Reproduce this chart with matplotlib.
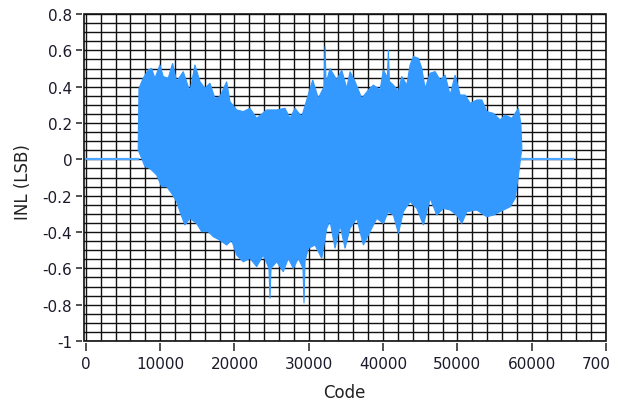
import numpy as np
import matplotlib
matplotlib.use("Agg")
import matplotlib.pyplot as plt
from matplotlib.ticker import MultipleLocator
from matplotlib.transforms import Bbox

# ---- data (Code vs INL in LSB) ----
upper_code = [7050, 7150, 7717, 8390, 8849, 9293, 9966, 10411, 11084, 11677, 12215, 13104,
              14007, 14680, 15354, 16027, 16700, 17374, 18047, 18949, 19394, 20296, 21185,
              22088, 22990, 24337, 25684, 26801, 27475, 28148, 29050, 29724, 30532, 31286,
              32050, 32189, 32330, 32862, 33764, 34437, 35111, 35556, 36229, 37131, 38020,
              38694, 39596, 40041, 40580, 40714, 40850, 41388, 42061, 42519, 43192, 43636,
              44081, 44754, 45212, 45657, 46330, 47003, 47677, 48350, 49024, 49697, 50370,
              51044, 51717, 52619, 53293, 53966, 54855, 55758, 56431, 57333, 58222, 58545]
upper_inl = [0.10, 0.391, 0.446, 0.492, 0.501, 0.446, 0.520, 0.456, 0.446, 0.529, 0.428, 0.483,
             0.373, 0.520, 0.428, 0.391, 0.419, 0.336, 0.345, 0.428, 0.318, 0.272, 0.263,
             0.281, 0.226, 0.272, 0.272, 0.281, 0.226, 0.281, 0.235, 0.327, 0.437, 0.336,
             0.40, 0.621, 0.42, 0.50, 0.437, 0.492, 0.391, 0.483, 0.428, 0.336, 0.382,
             0.409, 0.382, 0.492, 0.45, 0.602, 0.43, 0.409, 0.373, 0.456, 0.409, 0.520,
             0.566, 0.556, 0.501, 0.391, 0.474, 0.483, 0.437, 0.464, 0.354, 0.464, 0.354,
             0.354, 0.309, 0.327, 0.327, 0.263, 0.253, 0.217, 0.244, 0.226, 0.281, 0.193]

lower_code = [7050, 7502, 7946, 8620, 9522, 10195, 10869, 11542, 12215, 12660, 13333, 14007,
              14909, 15582, 16471, 17145, 18047, 18949, 19623, 20296, 21185, 22088, 22990,
              23879, 24640, 24781, 24920, 25684, 26573, 27246, 27920, 28593, 29220, 29360,
              29500, 29940, 30842, 31744, 32418, 32862, 33535, 34209, 34882, 35556, 36458,
              37347, 38249, 39151, 40041, 40714, 41388, 42061, 42734, 43636, 44539, 45428,
              46330, 47232, 48121, 49024, 49926, 50599, 51273, 52619, 53966, 54855, 56202,
              57104, 57778, 58222, 58679]
lower_inl = [0.05, 0.006, -0.040, -0.050, -0.086, -0.150, -0.150, -0.187, -0.233, -0.288, -0.362, -0.325,
             -0.353, -0.398, -0.398, -0.426, -0.445, -0.472, -0.445, -0.527, -0.564, -0.545, -0.591,
             -0.527, -0.60, -0.766, -0.60, -0.564, -0.619, -0.545, -0.601, -0.545, -0.60, -0.793,
             -0.56, -0.490, -0.472, -0.545, -0.380, -0.340, -0.490, -0.362, -0.490, -0.380, -0.325,
             -0.472, -0.398, -0.325, -0.353, -0.288, -0.307, -0.408, -0.288, -0.233, -0.270, -0.362,
             -0.215, -0.307, -0.270, -0.279, -0.307, -0.353, -0.288, -0.279, -0.316, -0.307, -0.279,
             -0.261, -0.215, -0.086, 0.061]

zero_left_code = [0, 7050]
zero_right_code = [58600, 65535]
zero_inl = [0.0, 0.0]

x_ticks = [0, 10000, 20000, 30000, 40000, 50000, 60000, 70000]
x_labels = ["0", "10000", "20000", "30000", "40000", "50000", "60000", "70000"]
y_ticks = [-1.0, -0.8, -0.6, -0.4, -0.2, 0.0, 0.2, 0.4, 0.6, 0.8]
y_labels = ["-1", "-0.8", "-0.6", "-0.4", "-0.2", "0", "0.2", "0.4", "0.6", "0.8"]

# ---- figure ----
plt.rcParams['font.family'] = ['DejaVu Sans']
W, H = 631, 406
fig = plt.figure(figsize=(W / 100, H / 100), dpi=100)
ax_l, ax_r, ax_t, ax_b = 84, 606, 15, 342
ax = fig.add_axes([ax_l / W, (H - ax_b) / H, (ax_r - ax_l) / W, (ax_b - ax_t) / H])

band_color = '#3399ff'
poly_x = np.concatenate([upper_code, lower_code[::-1]])
poly_y = np.concatenate([upper_inl, lower_inl[::-1]])
ax.fill(poly_x, poly_y, color=band_color, lw=0.8, ec=band_color, zorder=3)
ax.plot(zero_left_code, zero_inl, color='#4da6ff', lw=1.6, zorder=3)
ax.plot(zero_right_code, zero_inl, color='#4da6ff', lw=1.6, zorder=3)

ax.set_xlim(-250, 70000)
ax.set_ylim(-1.0, 0.8)
ax.set_xticks(x_ticks)
ax.set_xticklabels(x_labels)
ax.set_yticks(y_ticks)
ax.set_yticklabels(y_labels)
ax.xaxis.set_minor_locator(MultipleLocator(2000))
ax.yaxis.set_minor_locator(MultipleLocator(0.05))
ax.grid(True, which='both', color='#111111', lw=1.0, zorder=1)
ax.set_axisbelow(True)
ax.tick_params(which='minor', length=0)
ax.tick_params(axis='x', which='major', direction='out', length=6.0, width=1.2,
               color='#333333', labelsize=11, labelcolor='#1a1a2a', pad=3)
ax.tick_params(axis='y', which='major', direction='out', length=4.5, width=1.2,
               color='#333333', labelsize=11, labelcolor='#1a1a2a', pad=2.5)

# ticks sit slightly away from the plot frame; the frame itself is the axes patch edge
for side in ('left', 'bottom'):
    ax.spines[side].set_position(('outward', 1.5))
    ax.spines[side].set_visible(False)
for side in ('top', 'right'):
    ax.spines[side].set_visible(False)
ax.patch.set_edgecolor('#111111')
ax.patch.set_linewidth(1.2)

ax.set_xlabel('Code', fontsize=12, color='#222222', va='center')
ax.xaxis.set_label_coords((344 - ax_l) / (ax_r - ax_l), ((H - 393) - (H - ax_b)) / (ax_b - ax_t))
ax.set_ylabel('INL (LSB)', fontsize=12, color='#222222', va='center')
ax.yaxis.set_label_coords((23.5 - ax_l) / (ax_r - ax_l), ((H - 182) - (H - ax_b)) / (ax_b - ax_t))

# the last x tick label is cut off at the graph's right edge in the reference
clip = Bbox.from_extents(0, 0, 610, H)
for lab in ax.get_xticklabels():
    lab.set_clip_box(clip)
    lab.set_clip_on(True)

fig.savefig('out.png', dpi=100)
